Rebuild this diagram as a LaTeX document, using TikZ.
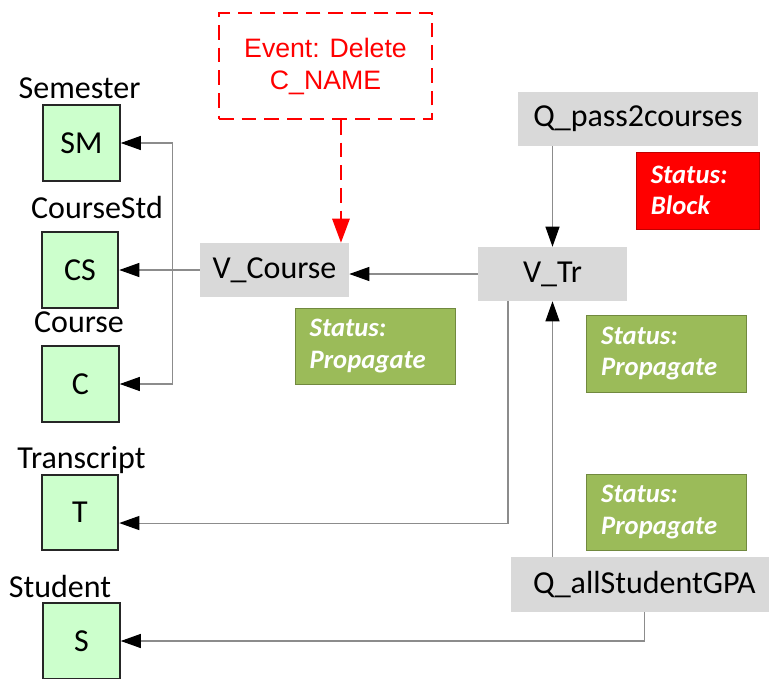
\documentclass[tikz,border=0pt]{standalone}
\usepackage{fontspec}
\setmainfont{Carlito}
\newfontfamily\arialf{Liberation Sans}
\usetikzlibrary{arrows.meta}
\definecolor{viewgray}{HTML}{D9D9D9}
\definecolor{tblgreen}{HTML}{CCFFCC}
\definecolor{statgreen}{HTML}{9BBB59}
\definecolor{statgreenline}{HTML}{71893F}
\definecolor{statred}{HTML}{FF0000}
\definecolor{statredline}{HTML}{C00000}
\definecolor{linegray}{HTML}{8C8C8C}
\begin{document}
\begin{tikzpicture}[x=0.75pt,y=-0.75pt,
  tbl/.style={draw=black!85, line width=1.4pt, fill=tblgreen, inner sep=0pt,
    minimum width=57.5pt, minimum height=57pt, font=\fontsize{24}{28}\selectfont},
  lbl/.style={anchor=base, inner sep=0pt, font=\fontsize{24}{28}\selectfont},
  view/.style={fill=viewgray, inner sep=0pt, minimum height=40.5pt,
    font=\fontsize{24}{28}\selectfont},
  stat/.style={inner xsep=11pt, inner ysep=0pt, align=left, text=white,
    font=\fontsize{20}{23.5}\selectfont\bfseries\itshape, line width=0.6pt},
  statg/.style={stat, fill=statgreen, draw=statgreenline, text width=98pt,
    minimum width=120pt, minimum height=57pt},
  statr/.style={stat, fill=statred, draw=statredline, text width=70pt,
    minimum width=92.25pt, minimum height=57.75pt},
  event/.style={draw=red, dash pattern=on 11pt off 6pt, line width=1.3pt,
    text=red, align=center, inner sep=0pt, minimum width=159.75pt,
    minimum height=79.5pt, font=\arialf\fontsize{20}{24}\selectfont},
  conn/.style={draw=linegray, line width=0.8pt,
    -{Triangle[length=15pt,width=10.5pt,color=black]}},
  evconn/.style={draw=red, line width=1.4pt, dash pattern=on 11pt off 6pt,
    -{Triangle[length=18pt,width=13pt,color=red]}}
]
\useasboundingbox (0,0) rectangle (769,679);

% tables
\node[tbl] (sm) at (81.5,143) {SM};
\node[tbl] (cs) at (80,270) {CS};
\node[tbl] (c)  at (80.5,384) {C};
\node[tbl, minimum height=56.25pt] (t) at (80,512.5) {T};
\node[tbl] (s)  at (81.5,641) {S};

% table labels
\node[lbl] (lsm) at (79.5,98) {Semester};
\node[lbl] (lcs) at (97,218) {CourseStd};
\node[lbl] (lc)  at (79,332) {Course};
\node[lbl] (lt)  at (81.5,468) {Transcript};
\node[lbl] (ls)  at (60,597) {Student};

% views and queries
\node[view, minimum width=111.75pt] (vcourse) at (274.5,270) {V\_Course};
\node[view, minimum width=111.75pt] (vtr) at (552.5,274) {V\_Tr};
\node[view, minimum width=180pt] (qpass) at (638,119) {Q\_pass2courses};
\node[view, minimum width=200.25pt, minimum height=41.25pt] (qall) at (644.5,584.5) {Q\_allStudentGPA};

% event
\node[event] (ev) at (325.5,66) {Event: Delete\\C\_NAME};

% status boxes
\node[statr] (st1) at (697.5,190.5) {Status:\\Block};
\node[statg] (st2) at (375,346) {Status:\\Propagate};
\node[statg, minimum height=57.75pt] (st3) at (666.5,353.5) {Status:\\Propagate};
\node[statg] (st4) at (666.5,512) {Status:\\Propagate};

% connectors
\draw[evconn] ([xshift=11.6pt]ev.south) -- ([xshift=11.6pt]ev.south |- vcourse.north);
\draw[conn] (vtr.north |- qpass.south) -- (vtr.north);
\draw[conn] (vtr.south |- qall.north) -- (vtr.south);
\draw[conn] (vtr.west) -- (vtr.west -| vcourse.east);
\draw[conn] (vcourse.west) -- (cs.east);
\draw[conn] (vcourse.west) -- ++(-27,0) |- (sm.east);
\draw[conn] (vcourse.west) -- ++(-27,0) |- (c.east);
\draw[conn] ([xshift=-33.4pt]vtr.south) |- ([yshift=-7.9pt]t.east);
\draw[conn] (qall.south) |- (s.east);
\end{tikzpicture}
\end{document}
